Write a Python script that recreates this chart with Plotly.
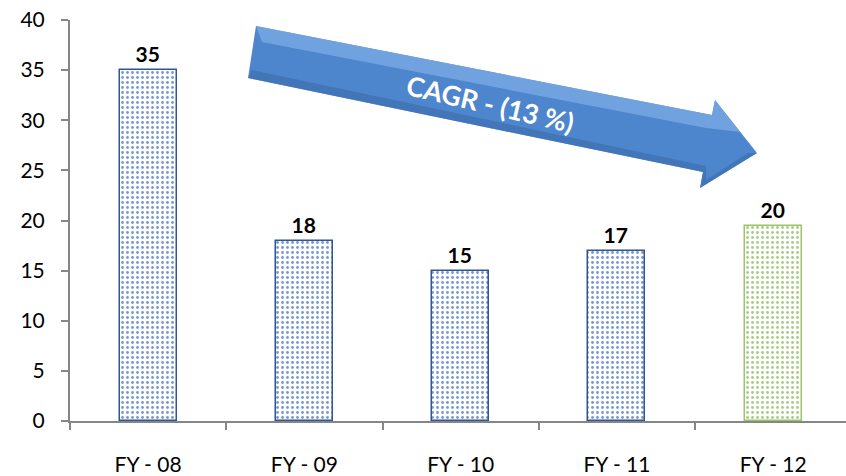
import plotly.graph_objects as go

categories = ["FY - 08", "FY - 09", "FY - 10", "FY - 11", "FY - 12"]
values = [35, 18, 15, 17, 19.5]
labels = ["35", "18", "15", "17", "20"]
y_ticks = [0, 5, 10, 15, 20, 25, 30, 35, 40]
y_tick_labels = [str(v) for v in y_ticks]
bg_colors = ["#7797d2", "#7797d2", "#7797d2", "#7797d2", "#a5cc80"]
line_colors = ["#2f5597", "#2f5597", "#2f5597", "#2f5597", "#9bc46c"]
cagr_text = "CAGR - (13 %)"

W, H = 846, 476
L, T, B = 70, 20, 55
PW, PH = W - L, H - T - B


def px(x, y):
    return (x - L) / PW, (H - B - y) / PH


def path(pts):
    s = ""
    for i, (x, y) in enumerate(pts):
        a, b = px(x, y)
        s += ("M" if i == 0 else "L") + f"{a:.4f},{b:.4f} "
    return s + "Z"


arrow = [(256, 26), (712, 115), (715, 100), (757, 153), (700, 188), (703, 172), (248, 78)]
highlight = [(256, 26), (712, 115), (715, 100), (740, 132), (706, 128), (262, 42)]
shadow = [(248, 78), (703, 172), (700, 188), (757, 153), (748, 153), (706, 180), (706, 166), (252, 70)]

fig = go.Figure()
fig.add_trace(go.Bar(
    x=categories, y=values, text=labels, textposition="outside",
    textfont=dict(family="Lato", size=21, color="black", weight="bold"),
    cliponaxis=False,
    width=0.365,
    marker=dict(
        color=bg_colors,
        line=dict(color=line_colors, width=1.5),
        pattern=dict(shape=".", fgcolor="white", bgcolor=bg_colors, size=5, solidity=0.25, fillmode="replace"),
    ),
))
# invisible helper trace so the label axis (y2) is drawn
fig.add_trace(go.Scatter(x=categories, y=values, yaxis="y2", mode="markers",
                         marker=dict(opacity=0), hoverinfo="skip", showlegend=False))

fig.add_shape(type="path", xref="paper", yref="paper", path=path(arrow),
              fillcolor="#4d86cc", line=dict(width=0), layer="below")
fig.add_shape(type="path", xref="paper", yref="paper", path=path(highlight),
              fillcolor="#79a9e4", line=dict(width=0), layer="below", opacity=0.8)
fig.add_shape(type="path", xref="paper", yref="paper", path=path(shadow),
              fillcolor="#3d6fb0", line=dict(width=0), layer="below", opacity=0.7)

ax, ay = px(490, 103)
fig.add_annotation(x=ax, y=ay, xref="paper", yref="paper", text="<b>" + cagr_text + "</b>", showarrow=False,
                   xanchor="center", yanchor="middle",
                   textangle=13, font=dict(family="Lato", size=27, color="white"))

fig.update_layout(
    width=W, height=H,
    margin=dict(l=L, r=0, t=T, b=B),
    paper_bgcolor="white", plot_bgcolor="white",
    showlegend=False,
    bargap=0,
    font=dict(family="Lato", size=21, color="black"),
    yaxis2=dict(
        overlaying="y", side="left", range=[0, 40], tickmode="array",
        tickvals=y_ticks, ticktext=y_tick_labels,
        showline=False, showgrid=False, zeroline=False,
        ticks="outside", ticklen=20, tickcolor="rgba(0,0,0,0)",
        tickfont=dict(family="Lato", size=21, color="black"),
    ),
)
fig.update_xaxes(
    type="category", range=[-0.5, 4.466],
    showline=True, linecolor="#868686", linewidth=1.5,
    ticks="outside", ticklen=7, tickcolor="#868686", tickwidth=1.5,
    tickson="boundaries", showgrid=False, zeroline=False,
    tickfont=dict(family="Lato", size=21), ticklabelstandoff=24,
)
fig.update_yaxes(
    selector=dict(anchor="x"),
)
fig.layout.yaxis.update(
    range=[0, 40], tickmode="array", tickvals=y_ticks, showticklabels=False,
    showline=True, linecolor="#868686", linewidth=1.5,
    ticks="outside", ticklen=7, tickcolor="#868686", tickwidth=1.5,
    showgrid=False, zeroline=False,
)

fig.write_html("out.html")
